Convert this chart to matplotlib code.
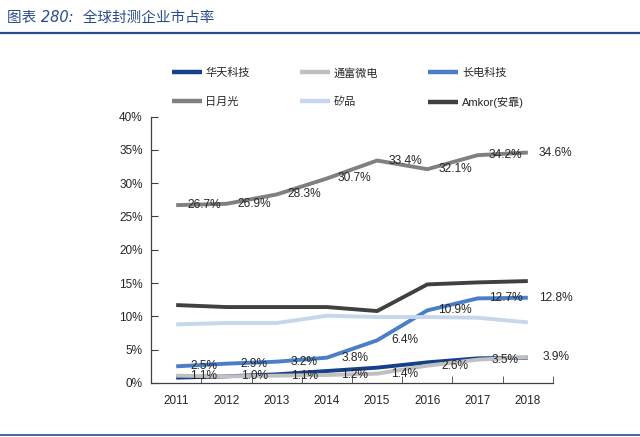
import matplotlib
matplotlib.use("Agg")
import matplotlib.pyplot as plt
from matplotlib.lines import Line2D

plt.rcParams['font.family'] = ['Liberation Sans', 'Noto Sans CJK SC', 'DejaVu Sans']

years = ['2011', '2012', '2013', '2014', '2015', '2016', '2017', '2018']
huatian = [0.8, 1.0, 1.3, 1.8, 2.3, 3.1, 3.7, 3.8]
tongfu = [1.1, 1.0, 1.1, 1.2, 1.4, 2.6, 3.5, 3.9]
changdian = [2.5, 2.9, 3.2, 3.8, 6.4, 10.9, 12.7, 12.8]
ase = [26.7, 26.9, 28.3, 30.7, 33.4, 32.1, 34.2, 34.6]
spil = [8.8, 9.0, 9.0, 10.1, 9.9, 9.9, 9.8, 9.1]
amkor = [11.7, 11.4, 11.4, 11.4, 10.8, 14.8, 15.1, 15.3]

names = ['华天科技', '通富微电', '长电科技', '日月光', '矽品', 'Amkor(安靠)']
series = [huatian, tongfu, changdian, ase, spil, amkor]
colors = ['#17408B', '#C0C0C0', '#4A7EC7', '#808080', '#C6D6EC', '#404040']
labeled = [False, True, True, True, False, False]

fig = plt.figure(figsize=(6.4, 4.37), dpi=100)
ax = fig.add_axes([0.236, 0.1236, 0.628, 0.6097])

x = list(range(len(years)))
handles = []
for s, c, n, lab in zip(series, colors, names, labeled):
    ax.plot(x, s, color=c, lw=2.8, solid_capstyle='butt', label=n)
    handles.append(Line2D([0], [0], color=c, lw=3.2, solid_capstyle='butt'))
    if lab:
        for xi, v in zip(x, s):
            ax.annotate(f'{v:.1f}%', (xi, v), xytext=(20, 0), textcoords='offset points',
                        ha='center', va='center', fontsize=8.6, color='#262626')

ax.set_xlim(-0.5, len(years) - 0.5)
ax.set_ylim(0, 40)
ax.set_yticks(range(0, 41, 5))
ax.set_yticklabels([f'{v}%' for v in range(0, 41, 5)], fontsize=8.5, color='#262626')
ax.set_xticks(x)
ax.set_xticklabels(years, fontsize=8.5, color='#262626')
ax.set_xticks([i + 0.5 for i in range(-1, len(years))], minor=True)
ax.tick_params(axis='x', which='major', length=0, pad=9)
ax.tick_params(axis='x', which='minor', direction='in', length=5, color='#404040')
ax.tick_params(axis='y', direction='in', length=5, color='#404040', pad=6)
for sp in ['top', 'right']:
    ax.spines[sp].set_visible(False)
for sp in ['left', 'bottom']:
    ax.spines[sp].set_color('#404040')
    ax.spines[sp].set_linewidth(0.9)

order = [0, 3, 1, 4, 2, 5]
leg = ax.legend([handles[i] for i in order], [names[i] for i in order], ncol=3,
                loc='upper left', bbox_to_anchor=(0.268, 0.845), bbox_transform=fig.transFigure,
                frameon=False, fontsize=8, handlelength=2.7, handletextpad=0.35,
                columnspacing=4.5, labelspacing=1.65, borderpad=0, borderaxespad=0)
for t in leg.get_texts():
    t.set_color('#262626')

fig.text(0.011, 0.960, '图表 280:  全球封测企业市占率', fontsize=10.5, color='#2B4C8C',
         style='italic', va='center', ha='left', family=['DejaVu Sans', 'Noto Sans CJK SC'])
fig.add_artist(Line2D([0, 1], [1 - 32.5 / 437, 1 - 32.5 / 437], transform=fig.transFigure,
                      color='#2B4C8C', lw=1.6))
fig.add_artist(Line2D([0, 1], [1 - 434.5 / 437, 1 - 434.5 / 437], transform=fig.transFigure,
                      color='#2B4C8C', lw=1.2))

fig.savefig('out.png', dpi=100)
